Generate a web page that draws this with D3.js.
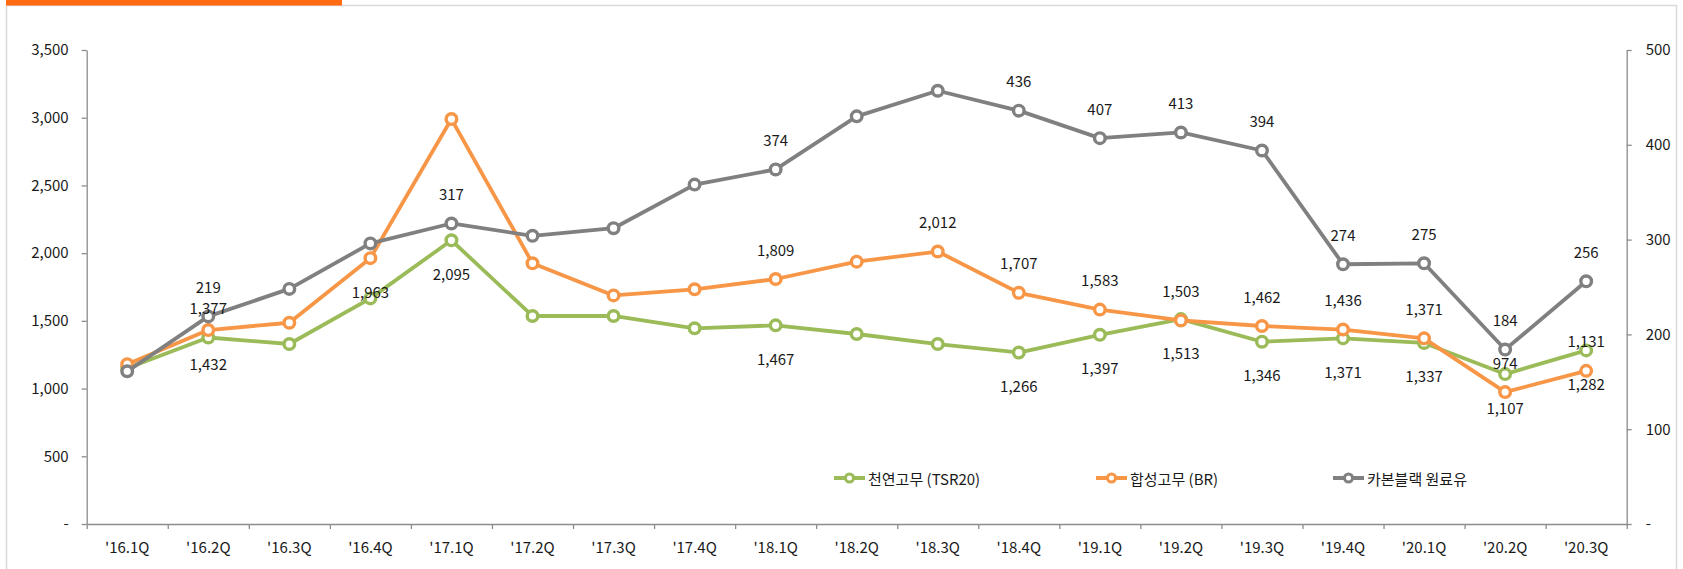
<!DOCTYPE html>
<html>
<head>
<meta charset="utf-8">
<script src="https://cdn.jsdelivr.net/npm/d3@7"></script>
<style>
  body { margin: 0; background: #fff; }
  text { font-family: "Noto Sans CJK KR", "Noto Sans", sans-serif; fill: #1a1a1a; }
</style>
</head>
<body>
<script>
// 분기
var quarters = ["'16.1Q","'16.2Q","'16.3Q","'16.4Q","'17.1Q","'17.2Q","'17.3Q","'17.4Q","'18.1Q","'18.2Q",
                "'18.3Q","'18.4Q","'19.1Q","'19.2Q","'19.3Q","'19.4Q","'20.1Q","'20.2Q","'20.3Q"];
// 천연고무 (TSR20) - 왼쪽 축
var natural = [1150, 1377, 1329, 1666, 2095, 1536, 1536, 1445, 1467, 1403,
               1329, 1266, 1397, 1513, 1346, 1371, 1337, 1107, 1282];
// 합성고무 (BR) - 왼쪽 축
var synthetic = [1180, 1432, 1486, 1963, 2990, 1925, 1688, 1733, 1809, 1937,
                 2012, 1707, 1583, 1503, 1462, 1436, 1371, 974, 1131];
// 카본블랙 원료유 - 오른쪽 축
var carbon = [161, 219, 248, 296, 317, 304, 312, 358, 374, 430,
              457, 436, 407, 413, 394, 274, 275, 184, 256];

var leftTicks = [0, 500, 1000, 1500, 2000, 2500, 3000, 3500];
var rightTicks = [0, 100, 200, 300, 400, 500];

// 값 라벨이 붙은 분기
var naturalLabelled = ["'16.2Q","'17.1Q","'18.1Q","'18.4Q","'19.1Q","'19.2Q","'19.3Q","'19.4Q","'20.1Q","'20.2Q","'20.3Q"];
var syntheticLabelled = ["'16.2Q","'16.4Q","'18.1Q","'18.3Q","'18.4Q","'19.1Q","'19.2Q","'19.3Q","'19.4Q","'20.1Q","'20.2Q","'20.3Q"];
var carbonLabelled = ["'16.2Q","'17.1Q","'18.1Q","'18.4Q","'19.1Q","'19.2Q","'19.3Q","'19.4Q","'20.1Q","'20.2Q","'20.3Q"];
// 라벨 위/아래가 뒤바뀐 분기
var naturalFlipped = ["'16.2Q"];
var syntheticFlipped = ["'16.2Q", "'16.4Q"];

var width = 1683, height = 569;
var mLeft = 86.7, mRight = 1626.7, mTop = 50, mBottom = 524;

var svg = d3.select("body").append("svg")
    .attr("width", width)
    .attr("height", height);

// 테두리 + 주황색 바
svg.append("rect")
    .attr("x", 6.5).attr("y", 5.5)
    .attr("width", 1670).attr("height", 580)
    .attr("fill", "none").attr("stroke", "#d9d9d9").attr("stroke-width", 1.5);
svg.append("rect")
    .attr("x", 6).attr("y", 0)
    .attr("width", 336).attr("height", 5.5)
    .attr("fill", "#ff6a13");

var x = d3.scaleBand().domain(quarters).range([mLeft, mRight]);
var xEdge = d3.scaleLinear().domain([0, quarters.length]).range([mLeft, mRight]);
var yL = d3.scaleLinear().domain([0, 3500]).range([mBottom, mTop]);
var yR = d3.scaleLinear().domain([0, 500]).range([mBottom, mTop]);

function fmt(d) { return d === 0 ? "-" : d3.format(",")(d); }

function styleAxis(g) {
    g.selectAll("path, line").attr("stroke", "#8c8c8c").attr("stroke-width", 1.3);
    g.selectAll("text").style("font-size", "15px").attr("fill", "#1a1a1a");
}

// 왼쪽 축
svg.append("g")
    .attr("transform", "translate(" + mLeft + ",0)")
    .call(d3.axisLeft(yL).tickValues(leftTicks).tickFormat(fmt).tickSizeInner(5).tickSizeOuter(0).tickPadding(13))
    .call(styleAxis);

// 오른쪽 축
svg.append("g")
    .attr("transform", "translate(" + mRight + ",0)")
    .call(d3.axisRight(yR).tickValues(rightTicks).tickFormat(fmt).tickSizeInner(5).tickSizeOuter(0).tickPadding(14))
    .call(styleAxis);

// 아래 축: 눈금은 구간 경계에
svg.append("g")
    .attr("transform", "translate(0," + mBottom + ")")
    .call(d3.axisBottom(xEdge).tickValues(d3.range(quarters.length + 1)).tickFormat("").tickSizeInner(5).tickSizeOuter(0))
    .call(styleAxis);
svg.append("g")
    .attr("transform", "translate(0," + mBottom + ")")
    .call(d3.axisBottom(x).tickSize(0).tickPadding(18))
    .call(styleAxis)
    .call(function(g) { g.select(".domain").remove(); });

var series = [
    { name: "천연고무 (TSR20)", values: natural, color: "#9bbb59", y: yL, labelled: naturalLabelled, flipped: naturalFlipped, side: 1, legendX: 834 },
    { name: "합성고무 (BR)", values: synthetic, color: "#f79646", y: yL, labelled: syntheticLabelled, flipped: syntheticFlipped, side: -1, legendX: 1096 },
    { name: "카본블랙 원료유", values: carbon, color: "#808080", y: yR, labelled: carbonLabelled, flipped: [], side: -1, legendX: 1333 }
];

series.forEach(function(s) {
    var line = d3.line()
        .x(function(d, i) { return x(quarters[i]) + x.bandwidth() / 2; })
        .y(function(d) { return s.y(d); });

    svg.append("path")
        .datum(s.values)
        .attr("d", line)
        .attr("fill", "none")
        .attr("stroke", s.color)
        .attr("stroke-width", 3.8)
        .attr("stroke-linejoin", "round");

    svg.selectAll(null)
        .data(s.values)
        .enter()
        .append("circle")
        .attr("cx", function(d, i) { return x(quarters[i]) + x.bandwidth() / 2; })
        .attr("cy", function(d) { return s.y(d); })
        .attr("r", 5.3)
        .attr("fill", "#fff")
        .attr("stroke", s.color)
        .attr("stroke-width", 3.4);
});

// 값 라벨
series.forEach(function(s) {
    svg.selectAll(null)
        .data(s.values.map(function(v, i) { return { v: v, q: quarters[i] }; })
            .filter(function(d) { return s.labelled.indexOf(d.q) >= 0; }))
        .enter()
        .append("text")
        .attr("x", function(d) { return x(d.q) + x.bandwidth() / 2; })
        .attr("y", function(d) {
            var side = s.flipped.indexOf(d.q) >= 0 ? -s.side : s.side;
            return s.y(d.v) + (side > 0 ? 33 : -30);
        })
        .attr("text-anchor", "middle")
        .attr("dominant-baseline", "central")
        .style("font-size", "15px")
        .text(function(d) { return d3.format(",")(d.v); });
});

// 범례
var legend = svg.selectAll(".legend")
    .data(series)
    .enter()
    .append("g")
    .attr("transform", function(d) { return "translate(" + d.legendX + ",478)"; });
legend.append("line")
    .attr("x1", 0).attr("x2", 31)
    .attr("stroke", function(d) { return d.color; })
    .attr("stroke-width", 4);
legend.append("circle")
    .attr("cx", 15.5).attr("r", 4)
    .attr("fill", "#fff")
    .attr("stroke", function(d) { return d.color; })
    .attr("stroke-width", 3);
legend.append("text")
    .attr("x", 34)
    .attr("dominant-baseline", "central")
    .style("font-size", "15px")
    .text(function(d) { return d.name; });
</script>
</body>
</html>
